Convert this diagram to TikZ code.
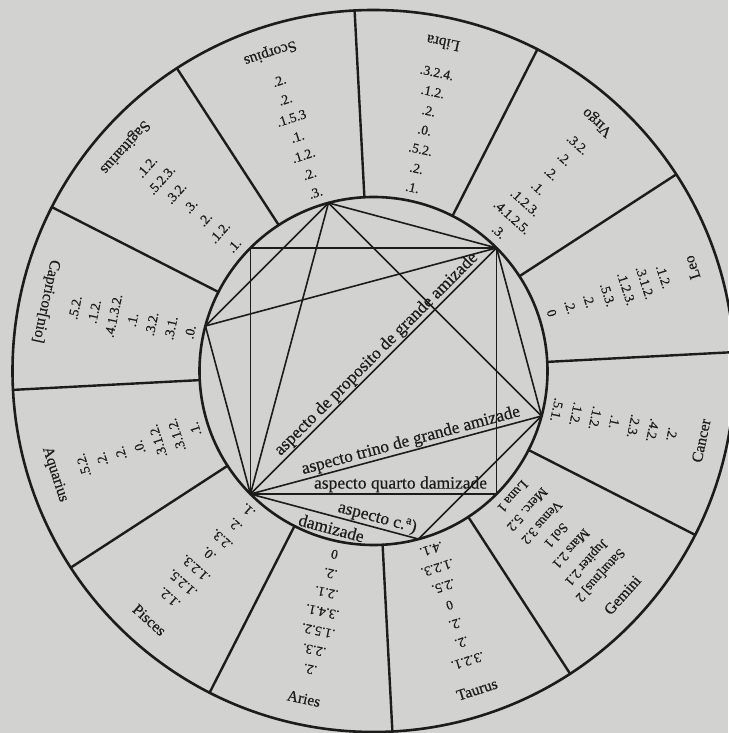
\documentclass[tikz,border=0pt]{standalone}
\usepackage{fontspec}
\setmainfont{Liberation Serif}[FakeBold=0.5]
\begin{document}
\begin{tikzpicture}[x=1pt,y=1pt]
\definecolor{bg}{RGB}{210,210,208}
\definecolor{ink}{RGB}{28,28,28}
\tikzset{
  ring/.style={draw=ink, line width=2.6pt},
  divider/.style={draw=ink, line width=2.4pt},
  chord/.style={draw=ink, line width=1.6pt},
  signname/.style={font=\fontsize{15.5}{15.5}\selectfont, text=ink, inner sep=0pt},
  numline/.style={font=\fontsize{13.5}{13.5}\selectfont, text=ink, inner sep=0pt},
  aspect/.style={font=\fontsize{17.5}{17.5}\selectfont, text=ink, inner sep=1.5pt},
}
\useasboundingbox (-373.5,-362) rectangle (354.5,371);
\fill[bg] (-373.5,-362) rectangle (354.5,371);
\coordinate (c) at (0,0);
% rings
\draw[ring] (c) circle (361);
\draw[ring] (c) circle (174);
% dividers
\foreach \a in {3,33,...,333} {
  \coordinate (din\a) at (\a:174);
  \coordinate (dout\a) at (\a:361);
  \draw[divider] (din\a) -- (dout\a);
}
% sign texts
\foreach \ang/\nm/\rows in {
  18/Leo/{.1.2.,.3.1.2.,.1.2.3.,.5.3.,.2.,.2.,0},
  48/Virgo/{.3.2.,.2.,.2.,.1.,.1.2.3.,.4.1.2.5.,.3.},
  78/Libra/{.3.2.4.,.1.2.,.2.,.0.,.5.2.,.2.,.1.},
  108/Scorpius/{.2.,.2.,.1.5.3,.1.,.1.2.,.2.,.3.},
  138/Sagittarius/{.1.2.,.5.2.3.,.3.2.,.3.,.2.,.1.2.,.1.},
  168/Capricor[nio]/{.5.2.,.1.2.,.4.1.3.2.,.1.,.3.2.,.3.1.,.0.},
  198/Aquarius/{.5.2.,.2.,.2.,.0.,.3.1.2.,.3.1.2.,.1.},
  228/Pisces/{.1.2.,.1.2.5.,.1.2.3.,.0.,.2.3.,.2.,.1.},
  258/Aries/{.2.,.2.3.,.1.5.2.,.3.4.1.,.2.1.,.2.,0},
  288/Taurus/{.3.2.1.,.2.,.2.,0,.2.5.,.1.2.3.,.4.1.},
  318/Gemini/{Satur[nus] 2,Jupiter 2.1,Mars 2.1,Sol 1,Venus 3.2,Merc. 5.2,Luna 1},
  348/Cancer/{.2.,.4.2.,.2.3.,.1.,.1.2.,.1.2.,.5.1.}} {
  \node[signname, rotate=\ang+90] (name\ang) at (\ang:335) {\nm};
  \foreach \t [count=\i] in \rows {
    \node[numline, rotate=\ang-90] (row\ang-\i) at (\ang:{305-19.6*(\i-1)}) {\t};
  }
}
% inner aspect figure
\coordinate (p45) at (45:174);
\coordinate (p105) at (105:174);
\coordinate (p135) at (135:174);
\coordinate (p165) at (165:174);
\coordinate (p225) at (225:174);
\coordinate (p285) at (285:174);
\coordinate (p315) at (315:174);
\coordinate (p345) at (345:174);
\draw[chord] (p45) -- (p135) -- (p225) -- (p315) -- cycle;
\draw[chord] (p105) -- (p225) -- (p345) -- cycle;
\draw[chord] (p105) -- (p165) -- (p225);
\draw[chord] (p105) -- (p45) -- (p345) -- (p285) -- (p225);
\draw[chord] (p225) -- (p45);
\draw[chord] (p165) -- (p45);
% aspect labels
\path (p225) -- (p45) node[aspect, sloped, above, pos=0.54] (lprop) {aspecto de proposito de grande amizade};
\path (p225) -- (p345) node[aspect, sloped, above, pos=0.56] (ltrino) {aspecto trino de grande amizade};
\path (p225) -- (p315) node[aspect, sloped, above, pos=0.61] (lquarto) {aspecto quarto damizade};
\path (p225) -- (p285) node[aspect, sloped, above, pos=0.74] (lca) {aspecto c.\textsuperscript{a})};
\path (p225) -- (p285) node[aspect, sloped, below=4pt, pos=0.5] (lcb) {damizade};
\end{tikzpicture}
\end{document}
